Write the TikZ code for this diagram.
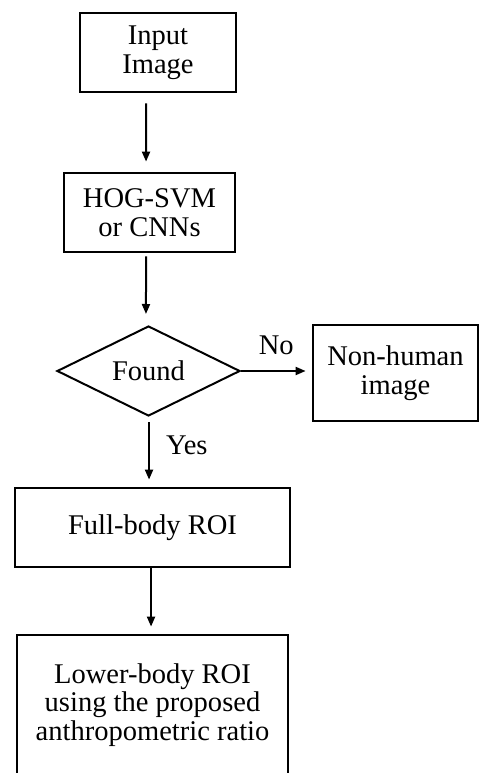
\documentclass[tikz,border=0pt]{standalone}
\usepackage{fontspec}
\setmainfont{Liberation Serif}
\usetikzlibrary{shapes.geometric,arrows.meta}

\tikzset{
  box/.style={draw, line width=2.1pt, rectangle, inner sep=0pt, align=center},
  decision/.style={draw, line width=1.5pt, diamond, aspect=2, inner sep=0pt, align=center},
  flow/.style={line width=1.5pt, -{Triangle[length=7.5pt,width=6pt]}},
  lbl/.style={inner sep=0pt},
}

\begin{document}
\begin{tikzpicture}[x=0.75pt,y=-0.75pt,
  every node/.append style={font=\fontsize{21.4pt}{21.4pt}\selectfont}]
  \clip (0,0) rectangle (480,773);

  % process steps
  \node[box, minimum width=117pt, minimum height=59.25pt] (in) at (158,52.5) {Input\\Image};
  \node[box, minimum width=128.25pt, minimum height=59.25pt] (hog) at (149.5,212.5) {HOG-SVM\\or CNNs};
  \node[decision, minimum width=137.25pt, minimum height=67.5pt] (found) at (148.5,371) {Found};
  \node[box, minimum width=123.75pt, minimum height=72pt] (nh) at (395.5,373) {Non-human\\image};
  \node[box, minimum width=206.25pt, minimum height=59.25pt] (full) at (152.5,527.5) {Full-body ROI};
  \node[box, minimum width=203.25pt, minimum height=105pt] (low) at (152.5,705) {Lower-body ROI\\using the proposed\\anthropometric ratio};

  % connectors
  \draw[flow, shorten <=7.5pt, shorten >=7.5pt]
    ([xshift=-9pt]in.south) -- ([xshift=-2.6pt]hog.north);
  \draw[flow, shorten <=2.25pt, shorten >=8.25pt]
    ([xshift=-2.6pt]hog.south) -- ([xshift=-1.9pt]found.north);
  \draw[flow, shorten >=4.5pt]
    (found.east) -- (found.east -| nh.west)
    node[lbl, midway, anchor=base, yshift=12.75pt] (no) {No};
  \draw[flow, shorten <=3.75pt, shorten >=5.25pt]
    ([xshift=0.4pt]found.south) -- ([xshift=-2.6pt]full.north)
    node[lbl, midway, anchor=base west, xshift=12pt, yshift=-2.25pt] (yes) {Yes};
  \draw[flow, shorten >=5.25pt]
    ([xshift=-1.1pt]full.south) -- ([xshift=-1.1pt]low.north);
\end{tikzpicture}
\end{document}
